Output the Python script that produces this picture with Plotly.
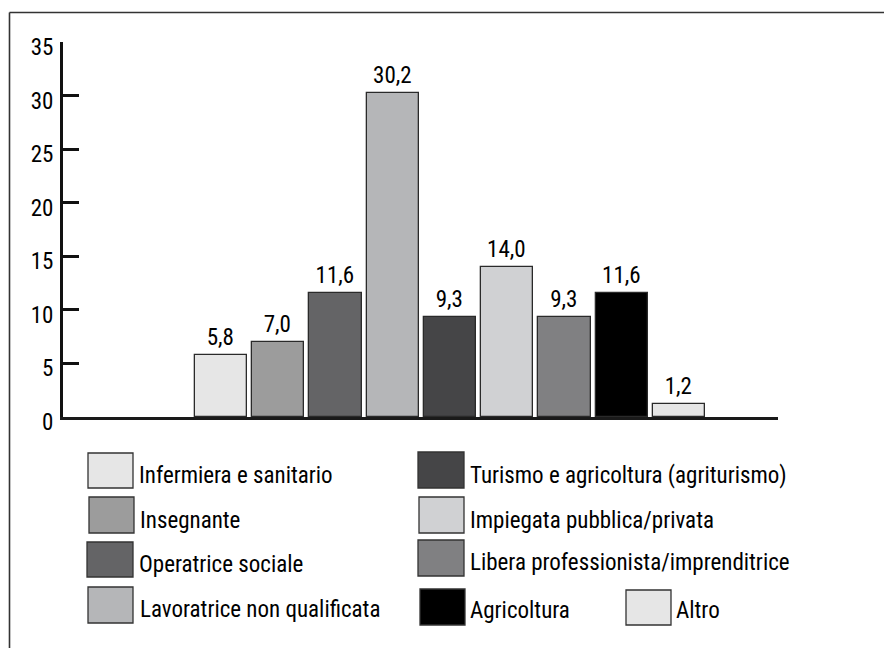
import plotly.graph_objects as go

# ---- data ----
categories = [
    "Infermiera e sanitario",
    "Insegnante",
    "Operatrice sociale",
    "Lavoratrice non qualificata",
    "Turismo e agricoltura (agriturismo)",
    "Impiegata pubblica/privata",
    "Libera professionista/imprenditrice",
    "Agricoltura",
    "Altro",
]
values = [5.8, 7.0, 11.6, 30.2, 9.3, 14.0, 9.3, 11.6, 1.2]
y_ticks = [0, 5, 10, 15, 20, 25, 30, 35]

# ---- styles ----
bar_colors = ["#e6e6e6", "#9c9c9c", "#646466", "#b5b6b8", "#454547",
              "#d0d1d3", "#808082", "#000000", "#e6e6e6"]
FONT = "Roboto Condensed, Liberation Sans Narrow, Arial Narrow, sans-serif"
FS = 23

W, H = 884, 648
L, R, T, B = 63, 778, 42, 417  # plot area in pixels


def px(x):
    return (x - L) / (R - L)


def py(y):
    return (B - y) / (B - T)


xpos = list(range(len(values)))
labels = [f"{v:.1f}".replace(".", ",") for v in values]

fig = go.Figure()
fig.add_trace(go.Bar(
    x=xpos, y=values, width=0.91,
    marker=dict(color=bar_colors, line=dict(color="#2a2a2a", width=1.3)),
    text=labels, textposition="outside", cliponaxis=False,
    textfont=dict(family=FONT, size=FS, color="black"),
    showlegend=False, hoverinfo="skip",
))

# legend (custom layout)
legend_items = [
    # (category index, swatch x0, y0, x1, y1, text x, text y)
    (0, 88, 453, 133, 488, 137, 475),
    (1, 89, 497, 134, 533, 138, 520),
    (2, 87, 542, 133, 577, 137, 564),
    (3, 88, 587, 133, 623, 138, 609),
    (4, 418, 452, 464, 488, 468, 475),
    (5, 419, 497, 464, 533, 468, 520),
    (6, 418, 540, 464, 576, 468, 562),
    (7, 420, 589, 465, 625, 468, 610),
    (8, 626, 590, 671, 625, 674, 610),
]
shapes = []
annotations = []
for idx, x0, y0, x1, y1, tx, ty in legend_items:
    shapes.append(dict(type="rect", xref="paper", yref="paper",
                       x0=px(x0), x1=px(x1), y0=py(y1), y1=py(y0),
                       fillcolor=bar_colors[idx],
                       line=dict(color="#333333", width=1.3)))
    annotations.append(dict(xref="paper", yref="paper", x=px(tx), y=py(ty),
                            xanchor="left", yanchor="middle", showarrow=False,
                            text=categories[idx],
                            font=dict(family=FONT, size=FS, color="black")))

# outer frame (top and left edges)
shapes.append(dict(type="line", xref="paper", yref="paper",
                   x0=px(9.5), x1=px(W + 5), y0=py(12.5), y1=py(12.5),
                   line=dict(color="#333333", width=1.6)))
shapes.append(dict(type="line", xref="paper", yref="paper",
                   x0=px(9.5), x1=px(9.5), y0=py(12.5), y1=py(H + 5),
                   line=dict(color="#333333", width=1.6)))

fig.update_layout(
    width=W, height=H,
    margin=dict(l=L, r=W - R, t=T, b=H - B, pad=0),
    paper_bgcolor="white", plot_bgcolor="white",
    font=dict(family=FONT, size=FS, color="black"),
    shapes=shapes, annotations=annotations,
    bargap=0,
)
fig.update_xaxes(
    range=[-2.76, 9.73], showgrid=False, zeroline=False,
    showline=True, linewidth=2.5, linecolor="#1a1a1a",
    tickvals=[9.72], ticktext=[""], ticks="inside", ticklen=9,
    tickwidth=3, tickcolor="#1a1a1a",
)
fig.update_yaxes(
    range=[0, 35], tickvals=y_ticks, showgrid=False, zeroline=False,
    showline=True, linewidth=3, linecolor="#111111",
    ticks="inside", ticklen=16, tickwidth=3, tickcolor="#111111",
    tickfont=dict(family=FONT, size=FS, color="black"),
    ticklabelstandoff=2, ticklabelshift=5,
)

fig.write_html(
    "out.html",
    config={"displayModeBar": False},
    post_script="document.body.style.margin='0';document.body.style.overflow='hidden';",
)
